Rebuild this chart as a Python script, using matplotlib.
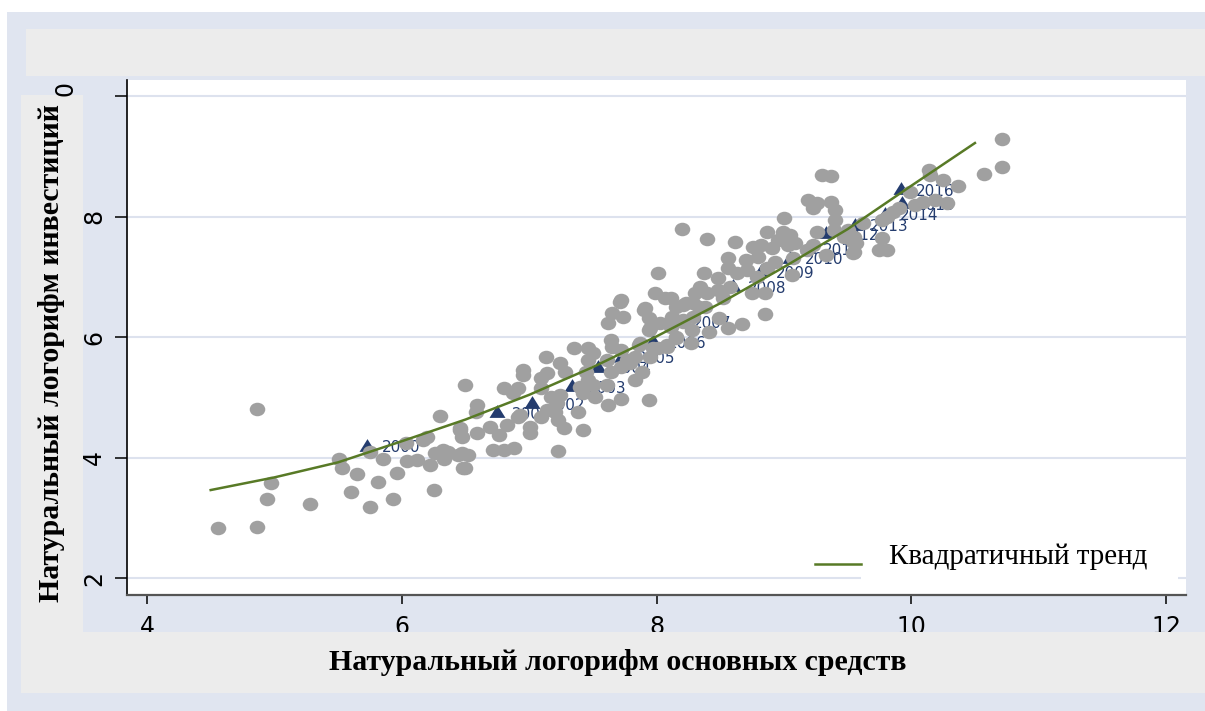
import matplotlib
matplotlib.use("Agg")
import matplotlib.pyplot as plt
from matplotlib.patches import Rectangle
from matplotlib.path import Path
from matplotlib.legend_handler import HandlerLine2D
import numpy as np

# ---- data -------------------------------------------------------------
# regional observations: (ln fixed assets, ln investment)
obs_x = [4.86, 4.56, 4.86, 4.97, 4.94, 5.28, 5.51, 5.53, 5.65, 5.60, 5.75, 5.81, 5.75, 5.85, 5.93, 5.96,
         6.03, 6.04, 6.12, 6.17, 6.20, 6.22, 6.25, 6.30, 6.26, 6.32, 6.33, 6.46, 6.47, 6.44, 6.48, 6.50, 6.52,
         8.01, 7.99, 8.11, 8.21, 8.29, 7.71, 7.65, 7.74, 7.62, 7.90, 7.94, 8.03, 7.94, 8.11, 8.21, 8.29,
         8.15, 8.08, 8.01, 7.86, 7.83, 7.95, 7.89, 7.83, 7.94, 7.64, 7.65, 7.72, 7.77, 7.72, 7.64, 7.61,
         7.52, 7.62, 7.72, 7.46, 7.50, 7.46, 7.35, 7.45, 7.46, 7.40, 7.50, 7.42, 7.24, 7.28, 7.13, 7.14,
         7.09, 6.95, 6.95, 6.80, 6.91, 6.87, 7.09, 7.17, 7.24, 6.59, 6.58, 6.46, 6.59, 6.69, 6.76, 6.83,
         6.91, 7.01, 6.93, 7.09, 7.14, 7.20, 7.22, 7.23, 7.38, 7.27, 7.42, 7.01, 6.72, 6.80, 6.88, 7.23,
         6.36, 6.47, 6.50, 7.61, 7.79,
         9.30, 9.37, 9.19, 9.26, 9.37, 9.40, 9.40, 9.23, 9.00, 8.99, 8.87, 8.82, 8.76, 8.80, 8.91, 8.95,
         9.03, 9.09, 9.05, 9.26, 9.23, 9.39, 9.47, 9.54, 9.55, 8.62, 8.40, 8.20, 8.56, 8.56, 8.70, 8.71,
         8.63, 8.87, 8.93, 9.07, 9.06, 8.79, 8.37, 8.34, 8.48, 8.48, 8.58, 8.75, 8.85, 8.52, 8.40, 8.30,
         8.33, 8.23, 8.07, 7.91, 7.72, 8.15, 8.12, 7.95, 8.21, 8.28, 8.38, 8.41, 8.56, 8.67, 8.49, 8.85,
         8.27, 8.15, 8.08, 7.97, 7.87, 9.18, 9.33, 9.55,
         10.71, 10.71, 10.57, 10.37, 10.25, 10.14, 10.15, 10.19, 10.09, 10.03, 9.99, 9.90, 9.86, 9.81,
         9.77, 9.62, 9.50, 9.57, 9.75, 9.81, 9.77, 9.54, 10.28]
obs_y = [4.80, 2.83, 2.85, 3.58, 3.31, 3.23, 3.98, 3.83, 3.73, 3.43, 3.18, 3.59, 4.09, 3.98, 3.31, 3.74,
         4.24, 3.94, 3.96, 4.29, 4.34, 3.88, 3.46, 4.69, 4.07, 4.12, 3.98, 4.46, 4.34, 4.04, 3.83, 5.20, 4.04,
         7.06, 6.73, 6.65, 6.53, 6.56, 6.58, 6.40, 6.33, 6.23, 6.45, 6.32, 6.23, 6.12, 6.17, 6.25, 6.33,
         5.98, 5.83, 5.82, 5.87, 5.67, 5.67, 5.42, 5.29, 4.95, 5.95, 5.83, 5.78, 5.62, 5.50, 5.42, 5.20,
         5.00, 4.87, 4.97, 5.82, 5.73, 5.62, 5.82, 5.42, 5.29, 5.17, 5.20, 5.07, 5.57, 5.42, 5.67, 5.40,
         5.32, 5.45, 5.37, 5.15, 5.15, 5.07, 5.15, 5.00, 5.04, 4.87, 4.76, 4.49, 4.41, 4.51, 4.37, 4.54,
         4.67, 4.51, 4.71, 4.67, 4.79, 4.76, 4.90, 4.62, 4.76, 4.49, 4.46, 4.41, 4.12, 4.12, 4.16, 4.11,
         4.09, 4.07, 3.83, 5.62, 5.57,
         8.69, 8.67, 8.27, 8.22, 8.24, 8.11, 7.94, 8.14, 7.98, 7.74, 7.74, 7.53, 7.49, 7.33, 7.48, 7.61,
         7.53, 7.56, 7.69, 7.74, 7.53, 7.78, 7.66, 7.58, 7.41, 7.58, 7.63, 7.79, 7.31, 7.15, 7.28, 7.11,
         7.06, 7.15, 7.24, 7.31, 7.03, 6.99, 7.06, 6.83, 6.98, 6.78, 6.83, 6.73, 6.73, 6.65, 6.73, 6.73,
         6.50, 6.56, 6.65, 6.48, 6.61, 6.50, 6.33, 6.15, 6.28, 6.12, 6.50, 6.08, 6.15, 6.22, 6.32, 6.38,
         5.90, 6.00, 5.87, 5.82, 5.90, 7.44, 7.36, 7.66,
         9.29, 8.82, 8.71, 8.51, 8.61, 8.77, 8.69, 8.27, 8.24, 8.19, 8.41, 8.14, 8.07, 7.99,
         7.94, 7.89, 7.78, 7.56, 7.44, 7.44, 7.64, 7.39, 8.22]

# national totals by year
years = ["2000", "2001", "2002", "2003", "2004", "2005", "2006", "2007", "2008",
         "2009", "2010", "2011", "2012", "2013", "2014", "2015", "2016"]
year_x = [5.73, 6.75, 7.02, 7.34, 7.54, 7.73, 7.97, 8.17, 8.60,
          8.82, 9.05, 9.19, 9.33, 9.56, 9.79, 9.93, 9.92]
year_y = [4.21, 4.77, 4.92, 5.20, 5.52, 5.70, 5.95, 6.28, 6.86,
          7.11, 7.33, 7.49, 7.74, 7.88, 8.06, 8.24, 8.47]

# quadratic trend, sampled along its range
trend_x = [4.5, 5.0, 5.5, 6.0, 6.5, 7.0, 7.5, 8.0, 8.5, 9.0, 9.5, 10.0, 10.5]
trend_y = [3.46, 3.67, 3.92, 4.27, 4.63, 5.04, 5.50, 6.01, 6.56, 7.16, 7.79, 8.51, 9.22]

x_ticks = [4, 6, 8, 10, 12]
y_ticks = [2, 4, 6, 8, 10]
y_ticklabels = ["2", "4", "6", "8", ""]

# ---- style ------------------------------------------------------------
BLUE_BG = "#e0e5f0"
BOX_BG = "#ececec"
GRID = "#dde2ee"
DOT = "#a0a0a0"
NAVY = "#243c6e"
GREEN = "#587a26"
SERIF = ["Liberation Serif", "DejaVu Serif"]
SANS = ["DejaVu Sans"]

W, H = 1205, 711
fig = plt.figure(figsize=(W / 100, H / 100), dpi=100)
fig.patch.set_facecolor("white")


def fx(px):
    return px / W


def fy(py):
    return 1 - py / H


# outer panels
fig.patches.append(Rectangle((fx(7), 0), 1, fy(12), transform=fig.transFigure,
                             facecolor=BLUE_BG, edgecolor="none", zorder=-5))
fig.patches.append(Rectangle((fx(26), fy(76)), 1, fy(29) - fy(76), transform=fig.transFigure,
                             facecolor=BOX_BG, edgecolor="none", zorder=1))
fig.patches.append(Rectangle((fx(21), fy(632)), fx(83) - fx(21), fy(95) - fy(632),
                             transform=fig.transFigure, facecolor=BOX_BG, edgecolor="none", zorder=1))
fig.patches.append(Rectangle((fx(21), fy(693)), 1, fy(632) - fy(693), transform=fig.transFigure,
                             facecolor=BOX_BG, edgecolor="none", zorder=1))

ax = fig.add_axes([fx(127), fy(595), fx(1186) - fx(127), fy(80) - fy(595)])
ax.set_facecolor("white")
ax.set_xlim(3.843, 12.157)
ax.set_ylim(1.718, 10.266)

# marker shapes: slightly wide ellipse and triangle
circ = Path.unit_circle()
ellipse = Path(circ.vertices * np.array([1.0, 0.87]), circ.codes)
tri = Path([(0, 0.8), (-1, -0.8), (1, -0.8), (0, 0.8)],
           [Path.MOVETO, Path.LINETO, Path.LINETO, Path.CLOSEPOLY])

# yearly points with labels (drawn underneath the regional cloud)
ax.plot(year_x, year_y, linestyle="none", marker=tri, markersize=11.5,
        color=NAVY, markeredgewidth=0, zorder=2)
for lab, xv, yv in zip(years, year_x, year_y):
    ax.annotate(lab, (xv, yv), xytext=(10.8, -2.2), textcoords="offset points",
                ha="left", va="center", color=NAVY, fontsize=11, family=SANS, zorder=2)

ax.plot(obs_x, obs_y, linestyle="none", marker=ellipse, markersize=11.2,
        color=DOT, markeredgewidth=0, zorder=3)

trend, = ax.plot(trend_x, trend_y, color=GREEN, linewidth=1.8, zorder=4,
                 label="Квадратичный тренд")

# grid, ticks, spines
ax.set_axisbelow(True)
ax.yaxis.grid(True, color=GRID, linewidth=1.5)
ax.xaxis.grid(False)
ax.set_xticks(x_ticks)
ax.set_yticks(y_ticks)
ax.set_yticklabels(y_ticklabels)
ax.tick_params(axis="x", direction="out", length=6.5, width=1.1, pad=8,
               labelsize=17, colors="black")
ax.tick_params(axis="y", direction="out", length=8.6, width=1.1, pad=6.5,
               labelsize=17, labelrotation=90, colors="black")
for lab in ax.get_xticklabels() + ax.get_yticklabels():
    lab.set_family(SANS)
for lab in ax.get_yticklabels():
    lab.set_va("center")
for side in ("top", "right"):
    ax.spines[side].set_visible(False)
ax.spines["left"].set_color("black")
ax.spines["left"].set_linewidth(1.2)
ax.spines["bottom"].set_color("#555555")
ax.spines["bottom"].set_linewidth(1.6)


class LoweredLineHandler(HandlerLine2D):
    """Legend key drawn a few points below the middle of the label."""

    def __init__(self, shift, **kw):
        super().__init__(**kw)
        self.shift = shift

    def create_artists(self, legend, orig_handle, xdescent, ydescent,
                       width, height, fontsize, trans):
        arts = super().create_artists(legend, orig_handle, xdescent, ydescent,
                                      width, height, fontsize, trans)
        for a in arts:
            a.set_ydata(np.asarray(a.get_ydata(), dtype=float) - self.shift)
        return arts


# legend
ax.add_patch(Rectangle((0.6931, 0.0097), 0.2993, 0.107, transform=ax.transAxes,
                       facecolor="white", edgecolor="none", zorder=1))
ax.legend(handles=[trend], loc="center left", bbox_to_anchor=(0.6497, 0.074),
          frameon=False, borderpad=0, borderaxespad=0, handlelength=1.58,
          handletextpad=0.97, prop={"family": SERIF, "size": 21},
          handler_map={trend: LoweredLineHandler(shift=7.2)})

# axis titles
fig.text(fx(52), fy(353), "Натуральный логорифм инвестиций", rotation=90,
         ha="center", va="center", family=SERIF, fontweight="bold", fontsize=21.5, zorder=3)
fig.text(fx(618), fy(663), "Натуральный логорифм основных средств",
         ha="center", va="center", family=SERIF, fontweight="bold", fontsize=21.5, zorder=3)
fig.text(fx(66), fy(89), "0", rotation=90, ha="center", va="center",
         family=SANS, fontsize=17, zorder=3)

fig.savefig("out.png", dpi=100, facecolor=fig.get_facecolor())
